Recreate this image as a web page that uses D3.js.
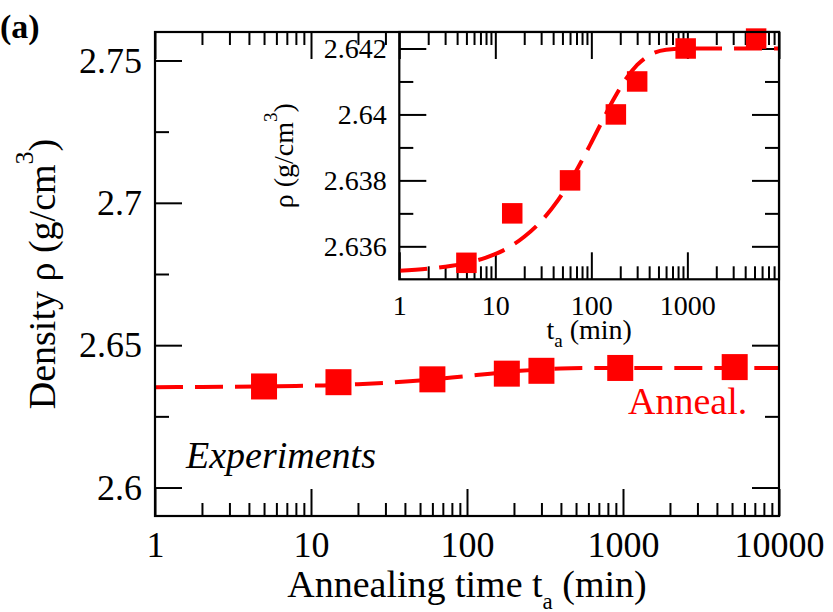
<!DOCTYPE html>
<html><head><meta charset="utf-8">
<script src="https://cdn.jsdelivr.net/npm/d3@7"></script>
<style>
body{margin:0;background:#fff}
svg{display:block}
</style>
</head><body>
<svg id="c" width="833" height="612" font-family="Liberation Serif"></svg>
<script>
// ---- data ----
const times   = [5, 15, 60, 180, 300, 960, 5200];
const density = [2.6355, 2.637, 2.638, 2.640, 2.641, 2.642, 2.6423];
// dashed fit curve
const fitTimes   = [1, 2, 3, 5, 8, 12, 20, 30, 45, 60, 80, 100, 130, 170, 220, 300, 400, 600, 1000, 3000, 10000];
const fitDensity = [2.63526, 2.63532, 2.63538, 2.63549, 2.63566, 2.63587, 2.63629, 2.63676, 2.63740, 2.63796, 2.63861, 2.63915, 2.63980, 2.64045, 2.64100, 2.64150, 2.64179, 2.64196, 2.64200, 2.64200, 2.64200];

const mainXTicks  = [1, 10, 100, 1000, 10000];
const mainXLabels = ["1", "10", "100", "1000", "10000"];
const mainYTicks  = [2.6, 2.65, 2.7, 2.75];
const mainYLabels = ["2.6", "2.65", "2.7", "2.75"];
const mainYMinor  = [2.625, 2.675, 2.725];

const insetXTicks  = [1, 10, 100, 1000];
const insetXLabels = ["1", "10", "100", "1000"];
const insetYTicks  = [2.636, 2.638, 2.64, 2.642];
const insetYLabels = ["2.636", "2.638", "2.64", "2.642"];
const insetYMinor  = [2.637, 2.639, 2.641];

const RED = "#ff0000";
const FONT = "Liberation Serif";
const svg = d3.select("#c");

function logMinor(lo, hi) {
  const out = [];
  for (let e = Math.floor(Math.log10(lo)); e <= Math.ceil(Math.log10(hi)); e++) {
    for (let k = 2; k <= 9; k++) {
      const v = k * Math.pow(10, e);
      if (v > lo && v < hi) out.push(v);
    }
  }
  return out;
}

function drawAxes(g, x, y, o) {
  const [x0, x1] = x.range(), [y0, y1] = y.range();
  const styleAxis = sel => {
    sel.select(".domain").remove();
    sel.attr("font-family", FONT).attr("font-size", o.fs);
    sel.selectAll("line").attr("stroke", "#000").attr("stroke-width", 2);
    sel.selectAll("text").attr("font-family", FONT).attr("font-size", o.fs).attr("fill", "#000");
  };
  g.append("g").attr("transform", `translate(0,${y0})`)
    .call(d3.axisBottom(x).tickValues(o.xMaj).tickFormat((d, i) => o.xLab[i]).tickSize(-27).tickSizeOuter(0).tickPadding(o.xPad))
    .call(styleAxis);
  g.append("g").attr("transform", `translate(0,${y0})`)
    .call(d3.axisBottom(x).tickValues(o.xMin).tickFormat("").tickSize(-13).tickSizeOuter(0))
    .call(styleAxis);
  g.append("g").attr("transform", `translate(0,${y1})`)
    .call(d3.axisTop(x).tickValues(o.xMaj).tickFormat("").tickSize(-27).tickSizeOuter(0))
    .call(styleAxis);
  g.append("g").attr("transform", `translate(0,${y1})`)
    .call(d3.axisTop(x).tickValues(o.xMin).tickFormat("").tickSize(-13).tickSizeOuter(0))
    .call(styleAxis);
  g.append("g").attr("transform", `translate(${x0},0)`)
    .call(d3.axisLeft(y).tickValues(o.yMaj).tickFormat((d, i) => o.yLab[i]).tickSize(-27).tickSizeOuter(0).tickPadding(o.yPad))
    .call(styleAxis);
  g.append("g").attr("transform", `translate(${x0},0)`)
    .call(d3.axisLeft(y).tickValues(o.yMin).tickFormat("").tickSize(-14).tickSizeOuter(0))
    .call(styleAxis);
  g.append("g").attr("transform", `translate(${x1},0)`)
    .call(d3.axisRight(y).tickValues(o.yMaj).tickFormat("").tickSize(-27).tickSizeOuter(0))
    .call(styleAxis);
  g.append("g").attr("transform", `translate(${x1},0)`)
    .call(d3.axisRight(y).tickValues(o.yMin).tickFormat("").tickSize(-14).tickSizeOuter(0))
    .call(styleAxis);
}

function drawFrame(g, x, y) {
  const [x0, x1] = x.range(), [y0, y1] = y.range();
  g.append("rect").attr("x", x0).attr("y", y1).attr("width", x1 - x0).attr("height", y0 - y1)
    .attr("fill", "none").attr("stroke", "#000").attr("stroke-width", 2.2);
}

function drawSeries(g, x, y, size, clipId) {
  const [x0, x1] = x.range(), [y0, y1] = y.range();
  g.append("clipPath").attr("id", clipId).append("rect")
    .attr("x", x0).attr("y", y1).attr("width", x1 - x0).attr("height", y0 - y1);
  const line = d3.line().x((d, i) => x(fitTimes[i])).y((d, i) => y(fitDensity[i])).curve(d3.curveMonotoneX);
  g.append("path").datum(fitTimes).attr("d", line)
    .attr("clip-path", `url(#${clipId})`)
    .attr("fill", "none").attr("stroke", RED).attr("stroke-width", 4)
    .attr("stroke-dasharray", "28,12");
  g.selectAll(null).data(times).enter().append("rect")
    .attr("x", d => x(d) - size / 2)
    .attr("y", (d, i) => y(density[i]) - size / 2)
    .attr("width", size).attr("height", size).attr("fill", RED);
}

function txt(g, size) {
  return g.append("text").attr("font-family", FONT).attr("font-size", size).attr("fill", "#000");
}

// ---- main plot ----
const mx = d3.scaleLog().domain([1, 10000]).range([155, 779]);
const my = d3.scaleLinear().domain([2.59, 2.76]).range([516, 32]);
const main = svg.append("g");
drawAxes(main, mx, my, {
  xMaj: mainXTicks, xLab: mainXLabels, xMin: logMinor(1, 10000), xPad: 15.5,
  yMaj: mainYTicks, yLab: mainYLabels, yMin: mainYMinor, yPad: 13, fs: 36
});
drawSeries(main, mx, my, 26, "clipMain");
drawFrame(main, mx, my);

const mxt = txt(main, 38).attr("x", (155 + 779) / 2).attr("y", 597).attr("text-anchor", "middle");
mxt.append("tspan").text("Annealing time t");
mxt.append("tspan").text("a").attr("font-size", 23).attr("dy", 12);
mxt.append("tspan").text(" (min)").attr("dy", -12);

const myt = txt(main, 38).attr("transform", `translate(55,${(32 + 516) / 2}) rotate(-90)`).attr("text-anchor", "middle");
myt.append("tspan").text("Density ρ (g/cm");
myt.append("tspan").text("3").attr("font-size", 26).attr("dy", -22);
myt.append("tspan").text(")").attr("dy", 22);

txt(main, 38).attr("x", 186).attr("y", 468).attr("font-style", "italic").text("Experiments");
txt(main, 38).attr("x", 628).attr("y", 414).attr("fill", RED).text("Anneal.");
txt(svg, 34).attr("x", 0).attr("y", 38).attr("font-weight", "bold").text("(a)");

// ---- inset ----
const ix = d3.scaleLog().domain([1, 9000]).range([399.3, 779]);
const iy = d3.scaleLinear().domain([2.635, 2.6425]).range([279.3, 32]);
const inset = svg.append("g");
inset.append("rect").attr("x", 399.3).attr("y", 32).attr("width", 779 - 399.3).attr("height", 279.3 - 32).attr("fill", "#fff");
drawAxes(inset, ix, iy, {
  xMaj: insetXTicks, xLab: insetXLabels, xMin: logMinor(1, 9000), xPad: 15.5,
  yMaj: insetYTicks, yLab: insetYLabels, yMin: insetYMinor, yPad: 12.5, fs: 28
});
drawSeries(inset, ix, iy, 20.5, "clipInset");
drawFrame(inset, ix, iy);

const ixt = txt(inset, 28).attr("x", (399.3 + 779) / 2).attr("y", 339).attr("text-anchor", "middle");
ixt.append("tspan").text("t");
ixt.append("tspan").text("a").attr("font-size", 19).attr("dy", 8);
ixt.append("tspan").text(" (min)").attr("dy", -8);

const iyt = txt(inset, 28).attr("transform", `translate(293,${(32 + 279.3) / 2}) rotate(-90)`).attr("text-anchor", "middle");
iyt.append("tspan").text("ρ (g/cm");
iyt.append("tspan").text("3").attr("font-size", 19).attr("dy", -16);
iyt.append("tspan").text(")").attr("dy", 16);
</script>
</body></html>
